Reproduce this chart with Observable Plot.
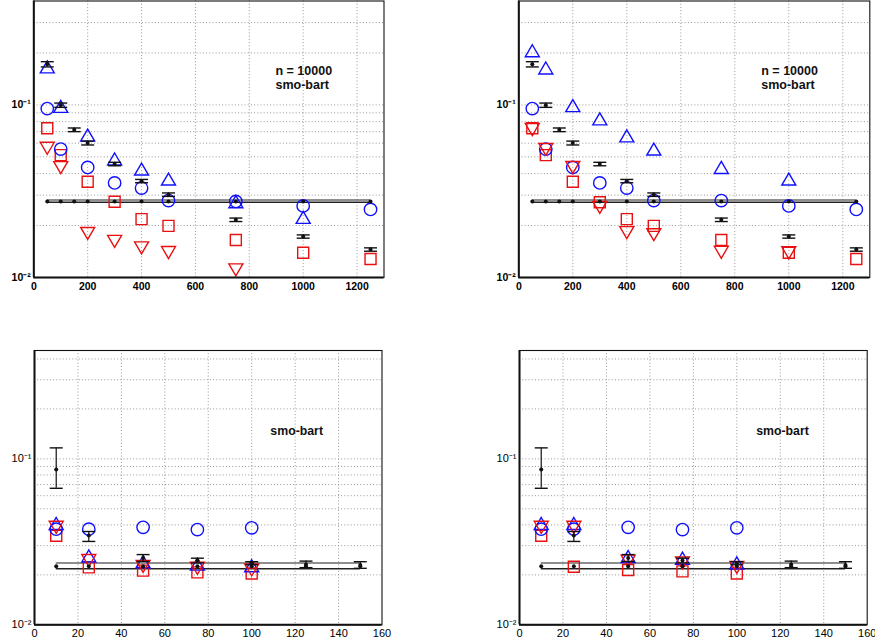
<!DOCTYPE html>
<html><head><meta charset="utf-8">
<script src="https://cdn.jsdelivr.net/npm/d3@7"></script>
<script src="https://cdn.jsdelivr.net/npm/@observablehq/plot@0.6"></script>
<style>
body{margin:0;background:#fff;}
#chart{position:relative;width:875px;height:644px;overflow:hidden;background:#fff;}
#chart svg{position:absolute;overflow:visible;}
</style></head><body><div id="chart"></div>
<script>
// ---------- data: top panels ----------
const topErrX    = [50, 100, 150, 200, 300, 400, 500, 750, 1000, 1250];
const topErrMean = [0.172, 0.0996, 0.0717, 0.0601, 0.0454, 0.0362, 0.0302, 0.0216, 0.01726, 0.01452];
const topErrHi   = [0.178, 0.1025, 0.0735, 0.0617, 0.0465, 0.0370, 0.0309, 0.0221, 0.01765, 0.01485];
const topErrLo   = [0.166, 0.0968, 0.0700, 0.0586, 0.0444, 0.0354, 0.0295, 0.0211, 0.01690, 0.01420];
const topRefMean = 0.0276, topRefHi = 0.0281, topRefLo = 0.0273;
const topMarkX   = [50, 100, 200, 300, 400, 500, 750, 1000, 1250];
const tlTriUp    = [0.166, 0.098, 0.0668, 0.0486, 0.0425, 0.0372, 0.0275, 0.0223, null];
const tlCircle   = [0.0952, 0.0555, 0.0434, 0.0353, 0.0330, 0.0279, 0.0276, 0.0260, 0.0248];
const tlSquare   = [0.0733, 0.0512, 0.0359, 0.0275, 0.0218, 0.0199, 0.0165, 0.0139, 0.0128];
const tlTriDown  = [0.0561, 0.0433, 0.0180, 0.0162, 0.01485, 0.01395, 0.01107, null, null];
const trTriUp    = [0.206, 0.1636, 0.099, 0.083, 0.0662, 0.0555, 0.0434, 0.0372, null];
const trCircle   = [0.0952, 0.0555, 0.0434, 0.0353, 0.0330, 0.0279, 0.0279, 0.0260, 0.0248];
const trSquare   = [0.0733, 0.0512, 0.0359, 0.0273, 0.0218, 0.0199, 0.0165, 0.0139, 0.0128];
const trTriDown  = [0.072, 0.0552, 0.0434, 0.0255, 0.0182, 0.0177, 0.0140, 0.0139, null];
// ---------- data: bottom panels ----------
const botErrX    = [10, 25, 50, 75, 100, 125, 150];
const botErrMean = [0.0862, 0.0345, 0.0253, 0.0244, 0.0235, 0.0231, 0.0229];
const botErrHi   = [0.1165, 0.0365, 0.0265, 0.0252, 0.0240, 0.0242, 0.0240];
const botErrLo   = [0.0665, 0.0318, 0.0241, 0.0236, 0.0230, 0.0221, 0.0219];
const botRefMean = 0.0225, botRefHi = 0.0236, botRefLo = 0.02175;
const botMarkX   = [10, 25, 50, 75, 100];
const blTriUp    = [0.0408, 0.0260, 0.0240, 0.0232, 0.0227];
const blCircle   = [0.0377, 0.0377, 0.0387, 0.0375, 0.0384];
const blSquare   = [0.0344, 0.0222, 0.0212, 0.0207, 0.0204];
const blTriDown  = [0.0387, 0.0244, 0.0225, 0.0219, 0.0214];
const brTriUp    = [0.0408, 0.0408, 0.0258, 0.0252, 0.0236];
const brCircle   = [0.0377, 0.0377, 0.0387, 0.0375, 0.0384];
const brSquare   = [0.0344, 0.0224, 0.0214, 0.0210, 0.0204];
const brTriDown  = [0.0387, 0.0387, 0.0242, 0.0236, 0.0222];
// ---------- ticks / labels ----------
const topXTicks = [0, 200, 400, 600, 800, 1000, 1200];
const botXTicks = [0, 20, 40, 60, 80, 100, 120, 140, 160];
const yTicks = [0.01, 0.1];
const yTickLabels = ["10\u207B\u00B2", "10\u207B\u00B9"];
const yGrid = [0.02, 0.03, 0.04, 0.05, 0.06, 0.07, 0.08, 0.09, 0.1, 0.2, 0.3, 0.4];
const topNote = ["n = 10000", "smo-bart"];
const botNote = ["smo-bart"];

// ---------- symbols ----------
const symTriUp = {draw(c){c.moveTo(0,-6);c.lineTo(7,6);c.lineTo(-7,6);c.closePath();}};
const symTriDown = {draw(c){c.moveTo(0,6);c.lineTo(7,-6);c.lineTo(-7,-6);c.closePath();}};
const symSquare = {draw(c){c.rect(-5.5,-5.5,11,11);}};
const symCircle = {draw(c){c.moveTo(6.2,0);c.arc(0,0,6.2,0,2*Math.PI);}};
const symCap = {draw(c){c.moveTo(-6.5,0);c.lineTo(6.5,0);}};

const BLUE = "#1010ff", RED = "#e81010";
const rows = (xs, ys) => xs.map((x, i) => ({x, y: ys[i]})).filter(d => d.y != null);

function panel(o) {
  const err = o.errX.map((x, i) => ({x, mean: o.errMean[i], hi: o.errHi[i], lo: o.errLo[i]}));
  const x0 = o.errX[0], x1 = o.errX[o.errX.length - 1];
  const gridX = o.xTicks.filter(v => v > o.xDomain[0] && v < o.xDomain[1]);
  const noteRows = o.notes.map((t, i) => ({t, y: o.noteY[i]}));
  const svg = Plot.plot({
    width: o.width, height: o.height,
    marginLeft: o.ml, marginRight: o.mr, marginTop: o.mt, marginBottom: o.mb,
    style: {fontFamily: "'Liberation Sans', Arial, Helvetica, sans-serif", fontSize: o.fs + "px",
            fontWeight: o.bold ? "bold" : "normal", background: "transparent", overflow: "visible"},
    x: {domain: o.xDomain, ticks: o.xTicks, tickFormat: d => String(d), tickSize: 0, tickPadding: o.xPad, label: null},
    y: {type: "log", domain: [0.01, o.yMax], ticks: yTicks, tickFormat: d => yTickLabels[yTicks.indexOf(d)],
        tickSize: 0, tickPadding: 3, label: null},
    marks: [
      Plot.ruleY(yGrid.filter(v => v < o.yMax), {stroke: "#8c8c8c", strokeWidth: 0.9, strokeDasharray: "1,2.2"}),
      Plot.ruleX(gridX, {stroke: "#8c8c8c", strokeWidth: 0.9, strokeDasharray: "1,2.2"}),
      // reference band
      Plot.ruleY([{y: o.refHi}], {y: "y", x1: () => x0, x2: () => x1, stroke: "#6a6a6a", strokeWidth: 1.6}),
      Plot.ruleY([{y: o.refLo}], {y: "y", x1: () => x0, x2: () => x1, stroke: "#222", strokeWidth: 1.6}),
      // markers
      Plot.dot(rows(o.markX, o.square), {x: "x", y: "y", symbol: symSquare, fill: "none", stroke: RED, strokeWidth: 1.4}),
      Plot.dot(rows(o.markX, o.circle), {x: "x", y: "y", symbol: symCircle, fill: "none", stroke: BLUE, strokeWidth: 1.4}),
      Plot.dot(rows(o.markX, o.triUp), {x: "x", y: "y", symbol: symTriUp, fill: "none", stroke: BLUE, strokeWidth: 1.4}),
      Plot.dot(rows(o.markX, o.triDown), {x: "x", y: "y", symbol: symTriDown, fill: "none", stroke: RED, strokeWidth: 1.4}),
      // reference dots
      Plot.dot(o.errX.map(x => ({x, y: o.refMean})), {x: "x", y: "y", r: 2, fill: "#111", stroke: "none"}),
      // error bars
      Plot.ruleX(err, {x: "x", y1: "lo", y2: "hi", stroke: "#111", strokeWidth: 1.2}),
      Plot.dot(err, {x: "x", y: "hi", symbol: symCap, stroke: "#111", strokeWidth: 1.4}),
      Plot.dot(err, {x: "x", y: "lo", symbol: symCap, stroke: "#111", strokeWidth: 1.4}),
      Plot.dot(err, {x: "x", y: "mean", r: 2, fill: "#111", stroke: "none"}),
      // annotation
      Plot.text(noteRows, {x: () => o.noteX, y: "y", text: "t", textAnchor: "start", fontWeight: "bold",
                           fontSize: o.noteFs, fill: "#111"}),
      // frame
      Plot.frame({stroke: "#111", strokeWidth: 1.1}),
      Plot.ruleX([o.xDomain[0]], {stroke: "#111", strokeWidth: 2}),
      Plot.ruleY([0.01], {stroke: "#111", strokeWidth: 2})
    ]
  });
  svg.style.left = o.left + "px";
  svg.style.top = o.top + "px";
  document.getElementById("chart").appendChild(svg);
}

const topCommon = {top: 0, height: 300, mt: 0.5, mb: 23, xDomain: [0, 1300], xTicks: topXTicks, yMax: 0.4,
  errX: topErrX, errMean: topErrMean, errHi: topErrHi, errLo: topErrLo,
  refMean: topRefMean, refHi: topRefHi, refLo: topRefLo, markX: topMarkX,
  notes: topNote, noteY: [0.1582, 0.1308], noteFs: 12.5, fs: 10.5, bold: true, xPad: 5};
const botCommon = {top: 330, height: 314, mt: 20, mb: 19.7, xDomain: [0, 160], xTicks: botXTicks, yMax: 0.45,
  errX: botErrX, errMean: botErrMean, errHi: botErrHi, errLo: botErrLo,
  refMean: botRefMean, refHi: botRefHi, refLo: botRefLo, markX: botMarkX,
  notes: botNote, noteY: [0.148], noteFs: 12.3, fs: 11, bold: false, xPad: 4};

panel({...topCommon, left: 0, width: 437, ml: 33.3, mr: 53.5, noteX: 897,
  triUp: tlTriUp, circle: tlCircle, square: tlSquare, triDown: tlTriDown});
panel({...topCommon, left: 437, width: 438, ml: 81.3, mr: 5.7, noteX: 898,
  triUp: trTriUp, circle: trCircle, square: trSquare, triDown: trTriDown});
panel({...botCommon, left: 0, width: 437, ml: 34, mr: 55.5, noteX: 108.6,
  triUp: blTriUp, circle: blCircle, square: blSquare, triDown: blTriDown});
panel({...botCommon, left: 437, width: 438, ml: 82, mr: 8.3, noteX: 108.9,
  triUp: brTriUp, circle: brCircle, square: brSquare, triDown: brTriDown});
</script></body></html>
